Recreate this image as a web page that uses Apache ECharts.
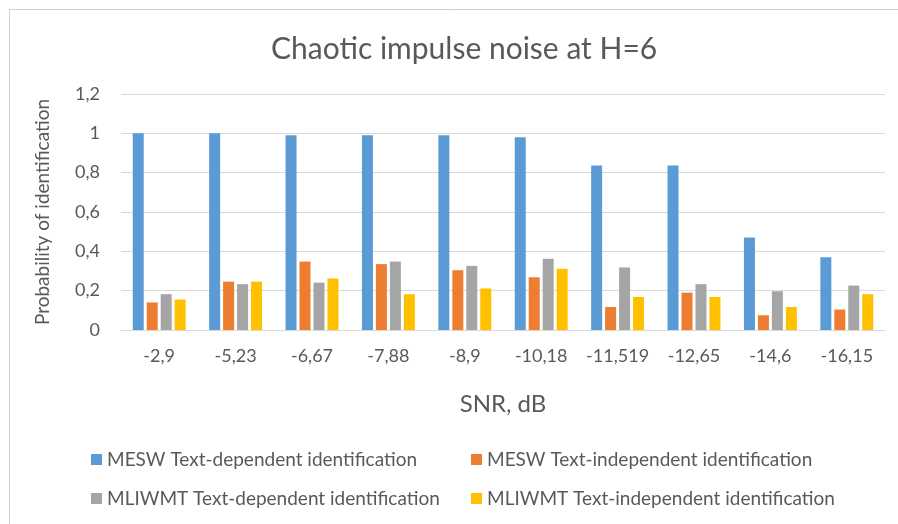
<!DOCTYPE html>
<html>
<head>
<meta charset="utf-8">
<script src="https://cdn.jsdelivr.net/npm/echarts@6/dist/echarts.min.js"></script>
<style>html,body{margin:0;padding:0;background:#fff;}#c{width:898px;height:524px;}</style>
</head>
<body>
<div id="c"></div>
<script>
var categories = ['-2,9','-5,23','-6,67','-7,88','-8,9','-10,18','-11,519','-12,65','-14,6','-16,15'];
var mesw_td = [1.0, 1.0, 0.99, 0.99, 0.99, 0.98, 0.836, 0.836, 0.47, 0.37];
var mesw_ti = [0.14, 0.246, 0.348, 0.335, 0.304, 0.268, 0.117, 0.19, 0.075, 0.104];
var mliwmt_td = [0.182, 0.233, 0.241, 0.348, 0.326, 0.362, 0.318, 0.233, 0.197, 0.226];
var mliwmt_ti = [0.155, 0.246, 0.262, 0.182, 0.211, 0.311, 0.168, 0.168, 0.117, 0.182];
var seriesNames = ['MESW Text-dependent identification','MESW Text-independent identification','MLIWMT Text-dependent identification','MLIWMT Text-independent identification'];
var colors = ['#5b9bd5','#ed7d31','#a5a5a5','#ffc000'];
var yTicks = {min:0, max:1.2, interval:0.2};

var font = 'Lato';
var txt = '#595959';
var chart = echarts.init(document.getElementById('c'));
var dataArr = [mesw_td, mesw_ti, mliwmt_td, mliwmt_ti];
var legendPos = [[86,445],[466,445],[86,484],[466,484]];
chart.setOption({
  animation:false,
  backgroundColor:'#fff',
  title:{text:'Chaotic impulse noise at H=6', left:266, top:29, textStyle:{fontFamily:font, fontWeight:'normal', fontSize:30, color:txt}},
  legend: legendPos.map(function(p,i){return {data:[seriesNames[i]], left:p[0], top:p[1], itemWidth:11, itemHeight:11, itemGap:6, icon:'rect', textStyle:{fontFamily:font, fontSize:19, color:txt}};}),
  grid:{left:121, right:13, top:94, bottom:194, containLabel:false},
  xAxis:{type:'category', data:categories, name:'SNR, dB', nameLocation:'middle', nameGap:62,
    nameTextStyle:{fontFamily:font, fontSize:24, color:txt},
    axisLine:{lineStyle:{color:'#d9d9d9'}}, axisTick:{show:false},
    axisLabel:{fontFamily:font, fontSize:18, color:txt, margin:17, interval:0}},
  yAxis:{type:'value', min:yTicks.min, max:yTicks.max, interval:yTicks.interval,
    name:'Probability of identification', nameLocation:'middle', nameGap:69, nameRotate:90,
    nameTextStyle:{fontFamily:font, fontSize:19, color:txt},
    axisLine:{show:false}, axisTick:{show:false},
    splitLine:{lineStyle:{color:'#d9d9d9'}},
    axisLabel:{fontFamily:font, fontSize:18, color:txt, margin:21, formatter:function(v){return String(Math.round(v*10)/10).replace('.',',');}}},
  series: dataArr.map(function(d,i){return {name:seriesNames[i], type:'bar', data:d, barWidth:11, barGap:'27%', itemStyle:{color:colors[i]}};}),
  graphic:[
    {type:'line', shape:{x1:9.5,y1:9.5,x2:898,y2:9.5}, style:{stroke:'#d0d0d0', lineWidth:1}},
    {type:'line', shape:{x1:9.5,y1:9.5,x2:9.5,y2:524}, style:{stroke:'#d0d0d0', lineWidth:1}}
  ]
});
</script>
</body>
</html>
